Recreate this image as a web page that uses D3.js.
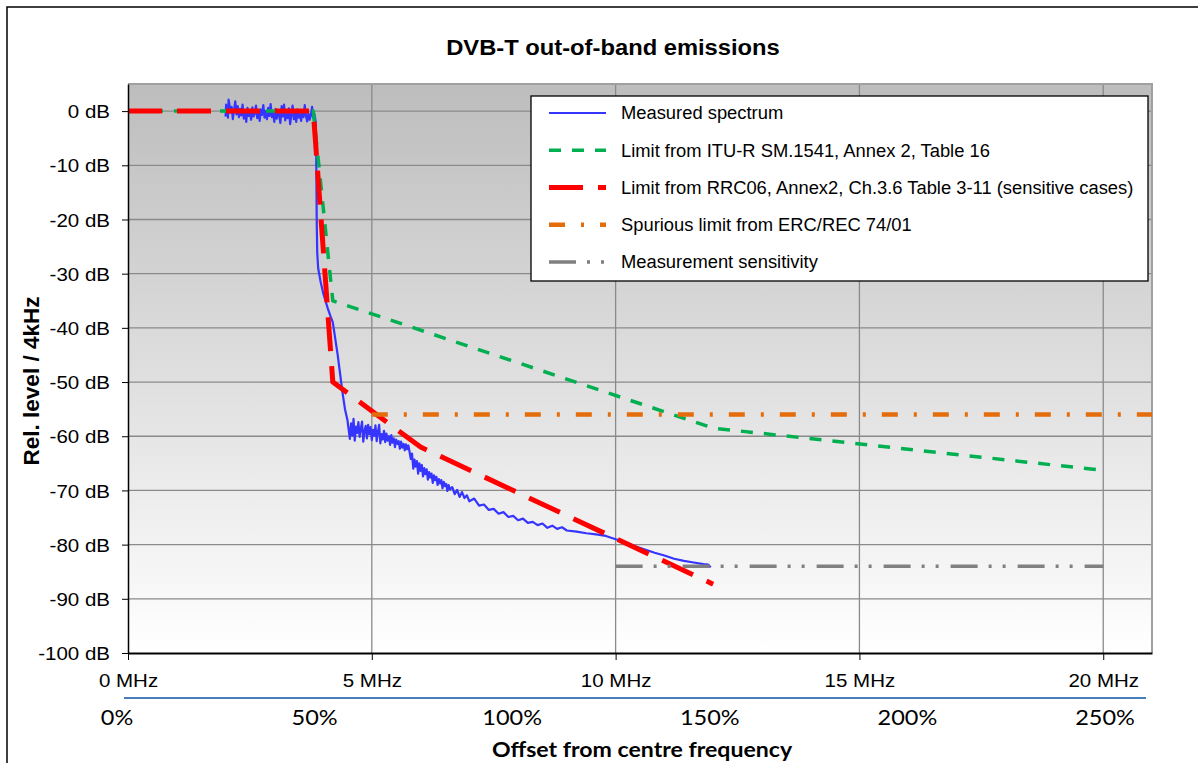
<!DOCTYPE html>
<html><head><meta charset="utf-8">
<script src="https://cdn.jsdelivr.net/npm/d3@7"></script>
<style>
html,body{margin:0;padding:0;background:#fff;}
svg{display:block;}
</style></head>
<body>
<svg id="chart" width="1198" height="763"></svg>
<script>
// ---------------- DATA ----------------
const title = "DVB-T out-of-band emissions";
const yTitle = "Rel. level / 4kHz";
const xTitle = "Offset from centre frequency";
const yTicks = [0,-10,-20,-30,-40,-50,-60,-70,-80,-90,-100];
const xTicks = [0,5,10,15,20];
const pctTicks = [0,50,100,150,200,250];
const seriesNames = [
  "Measured spectrum",
  "Limit from ITU-R SM.1541, Annex 2, Table 16",
  "Limit from RRC06, Annex2, Ch.3.6 Table 3-11 (sensitive cases)",
  "Spurious limit from ERC/REC 74/01",
  "Measurement sensitivity"
];
// measured spectrum: [offset MHz, level dB]
const measuredSpectrum = [
 [2.000,-1.0],[2.0125,1.2],[2.025,0.5],[2.050,-1.2],[2.0625,2.1],[2.075,1.5],[2.100,-0.3],[2.125,0.8],[2.150,-1.5],[2.175,0.2],
 [2.200,1.8],[2.225,-0.6],[2.250,0.9],[2.275,-1.1],[2.300,0.4],[2.325,-0.8],[2.350,1.2],[2.375,-1.4],
 [2.400,0.1],[2.425,-2.0],[2.450,0.6],[2.475,-0.9],[2.500,-0.2],[2.525,-1.6],[2.550,0.7],[2.575,-1.0],
 [2.600,-0.4],[2.625,1.0],[2.650,-1.3],[2.675,-0.1],[2.700,-1.8],[2.725,0.3],[2.750,-0.7],[2.775,1.1],
 [2.800,-1.2],[2.825,0.0],[2.850,-1.5],[2.875,0.6],[2.900,-0.9],[2.925,1.3],[2.950,-1.1],[2.975,-0.3],
 [3.000,-2.0],[3.025,0.4],[3.050,-1.4],[3.075,0.2],[3.100,-0.8],[3.125,-2.2],[3.150,0.9],[3.175,-1.0],
 [3.200,1.2],[3.225,-1.7],[3.250,-0.2],[3.275,-1.3],[3.300,0.5],[3.325,-2.4],[3.350,-0.6],[3.375,1.0],
 [3.400,-1.5],[3.425,-0.1],[3.450,-2.0],[3.475,0.3],[3.500,-1.2],[3.525,-0.5],[3.550,-1.8],[3.575,0.0],
 [3.600,-1.1],[3.625,1.1],[3.650,-0.9],[3.675,-1.9],[3.700,-0.4],[3.725,-1.6],[3.750,-0.8],[3.775,0.8],
 [3.800,-1.3],[3.825,-0.6],[3.850,-2.0],
 [3.860,-8.0],[3.870,-20.0],[3.880,-26.0],[3.900,-29.0],[3.950,-31.5],[4.000,-33.5],[4.050,-35.0],
 [4.100,-36.5],[4.150,-37.8],[4.200,-39.0],[4.250,-42.0],[4.300,-45.0],[4.350,-48.5],[4.400,-52.0],
 [4.450,-55.0],[4.500,-57.0],
 [4.525,-58.8],[4.550,-60.5],[4.575,-57.6],[4.600,-59.9],[4.625,-56.8],[4.650,-60.8],[4.675,-58.2],
 [4.700,-59.4],[4.725,-57.4],[4.750,-60.1],[4.775,-58.6],[4.800,-57.3],[4.825,-61.0],[4.850,-59.0],
 [4.875,-58.1],[4.900,-60.4],[4.925,-57.9],[4.950,-59.6],[4.975,-58.3],[5.000,-60.7],[5.025,-58.8],
 [5.050,-59.9],[5.075,-58.0],[5.100,-60.9],[5.125,-59.2],[5.150,-57.9],[5.175,-61.3],[5.200,-59.6],
 [5.225,-60.6],[5.250,-59.0],[5.275,-61.1],[5.300,-59.5],[5.325,-60.8],[5.350,-60.0],[5.375,-61.6],
 [5.400,-59.8],[5.425,-61.2],[5.450,-60.4],[5.475,-62.0],[5.500,-60.6],[5.525,-61.4],[5.550,-60.9],
 [5.575,-62.3],[5.600,-61.0],[5.625,-62.1],[5.650,-61.4],[5.675,-62.6],[5.700,-61.5],[5.725,-62.4],
 [5.750,-61.7],[5.775,-62.9],[5.800,-64.2],[5.825,-63.2],[5.850,-66.0],[5.875,-64.3],[5.900,-65.6],
 [5.925,-64.6],[5.950,-66.9],[5.975,-65.0],[6.000,-66.4],[6.025,-65.3],[6.050,-67.4],[6.075,-65.9],
 [6.100,-67.0],[6.125,-66.1],[6.150,-68.0],[6.175,-66.6],[6.200,-67.6],[6.225,-66.9],[6.250,-68.6],
 [6.275,-67.2],[6.300,-68.1],[6.325,-67.5],[6.350,-69.0],[6.375,-67.9],[6.400,-68.7],[6.425,-68.1],
 [6.450,-69.6],[6.475,-68.4],[6.500,-69.2],[6.525,-68.8],[6.550,-70.1],[6.575,-69.0],[6.600,-69.8],
 [6.650,-69.4],[6.700,-70.7],[6.750,-69.9],[6.800,-71.2],[6.850,-70.3],[6.900,-71.4],[6.950,-70.9],
 [7.000,-72.0],[7.100,-71.5],[7.200,-72.8],
 [7.300,-72.6],[7.400,-73.6],[7.500,-73.4],[7.600,-74.3],[7.700,-74.0],[7.800,-74.9],[7.900,-74.7],
 [8.000,-75.5],[8.100,-75.2],[8.200,-76.0],[8.300,-75.8],[8.400,-76.4],[8.500,-76.1],[8.600,-76.9],
 [8.700,-76.5],[8.800,-77.1],[8.900,-76.8],[9.000,-77.4],[9.200,-77.6],[9.400,-77.9],[9.600,-78.1],
 [9.800,-78.4],[10.000,-79.0],[10.200,-79.5],[10.400,-80.3],[10.600,-80.9],[10.800,-81.5],[11.000,-82.0],
 [11.200,-82.6],[11.400,-83.0],[11.600,-83.3],[11.800,-83.6],[11.900,-83.7],[11.950,-84.2]
];
const ituFreq = [0, 3.8, 4.2, 12.0, 20.0];
const ituLevel = [0, 0, -35, -58.5, -66.3];
const rrcFreq = [0, 3.8, 4.2, 6.0, 12.0];
const rrcLevel = [0, 0, -50, -62, -87.3];
const spurFreq = [5, 21];
const spurLevel = [-56, -56];
const sensFreq = [10, 20];
const sensLevel = [-84, -84];

// ---------------- LAYOUT / STYLE ----------------
const M = {left:128, right:1152, top:84, bottom:653};
const SX = 1.08; // horizontal text stretch
const FONT = "'Liberation Sans', Arial, sans-serif";
const FONT2 = "Lato, 'Open Sans', sans-serif";
const styles = [
  {color:"#3535ff", width:2.2, dash:null},
  {color:"#00b050", width:3.5, dash:"12,11"},
  {color:"#ff0000", width:5, dash:"34,15"},
  {color:"#e46c0a", width:4.5, dash:"16,16,3,16"},
  {color:"#808080", width:3.5, dash:"27,11,3,11,3,12"}
];

const svg = d3.select("#chart");
const x = d3.scaleLinear().domain([0,21]).range([M.left, M.right]);
const y = d3.scaleLinear().domain([-100,5]).range([M.bottom, M.top]);
const pct = d3.scaleLinear().domain([0,250]).range([117,1105]);

function stretch(sel, sx){
  sel.each(function(){
    const t = d3.select(this);
    const tx = +t.attr("data-x")||0, ty = +t.attr("data-y")||0;
    t.attr("transform", `translate(${tx},${ty}) scale(${sx},1)`).attr("x",0).attr("y",0);
  });
}

// outer frame
svg.append("rect").attr("x",7).attr("y",7).attr("width",1400).attr("height",1000)
  .attr("fill","#fff").attr("stroke","#000").attr("stroke-width",1.5);

// gradient background
const defs = svg.append("defs");
const lg = defs.append("linearGradient").attr("id","bg").attr("x1",0).attr("x2",0).attr("y1",0).attr("y2",1);
lg.append("stop").attr("offset","0%").attr("stop-color","#bdbdbd");
lg.append("stop").attr("offset","100%").attr("stop-color","#ffffff");
defs.append("clipPath").attr("id","clip").append("rect")
  .attr("x",M.left).attr("y",M.top).attr("width",M.right-M.left).attr("height",M.bottom-M.top);

svg.append("rect").attr("x",M.left).attr("y",M.top).attr("width",M.right-M.left).attr("height",M.bottom-M.top)
  .attr("fill","url(#bg)");

// grid
const grid = svg.append("g");
grid.selectAll("line.h").data(yTicks.filter(d=>d>-100)).join("line")
  .attr("x1",M.left).attr("x2",M.right).attr("y1",d=>y(d)).attr("y2",d=>y(d))
  .attr("stroke","#8a8a8a").attr("stroke-width",1.3);
grid.selectAll("line.v").data(xTicks.filter(d=>d>0)).join("line")
  .attr("y1",M.top).attr("y2",M.bottom).attr("x1",d=>x(d)).attr("x2",d=>x(d))
  .attr("stroke","#8a8a8a").attr("stroke-width",1.3);

// plot border top/right
svg.append("path").attr("d",`M${M.left},${M.top}H${M.right}V${M.bottom}`)
  .attr("fill","none").attr("stroke","#a0a0a0").attr("stroke-width",2);

// series
const line = d3.line().x(d=>x(d[0])).y(d=>y(d[1]));
const zip = (f,l)=>f.map((v,i)=>[v,l[i]]);
const seriesData = [
  measuredSpectrum,
  zip(ituFreq, ituLevel),
  zip(rrcFreq, rrcLevel),
  zip(spurFreq, spurLevel),
  zip(sensFreq, sensLevel)
];
const plot = svg.append("g").attr("clip-path","url(#clip)");
seriesData.forEach((data,i)=>{
  const s = styles[i];
  plot.append("path").datum(data).attr("d",line)
    .attr("fill","none").attr("stroke",s.color).attr("stroke-width",s.width)
    .attr("stroke-dasharray",s.dash).attr("stroke-linejoin","round");
});

// axes
const yAxis = svg.append("g").attr("transform",`translate(${M.left},0)`)
  .call(d3.axisLeft(y).tickValues(yTicks).tickFormat(d=>d+" dB").tickSize(6).tickSizeOuter(0));
yAxis.select(".domain").attr("stroke","#000").attr("stroke-width",1.5);
yAxis.selectAll(".tick line").attr("stroke","#000").attr("stroke-width",1);
yAxis.selectAll(".tick text").attr("font-family",FONT).attr("font-size",19).attr("fill","#000")
  .attr("data-x",-18).attr("data-y",0).attr("dy","0.35em").call(stretch,SX);

const xAxis = svg.append("g").attr("transform",`translate(0,${M.bottom})`)
  .call(d3.axisBottom(x).tickValues(xTicks).tickFormat(d=>d+" MHz").tickSize(7).tickSizeOuter(0));
xAxis.select(".domain").attr("stroke","#000").attr("stroke-width",2);
xAxis.selectAll(".tick line").attr("stroke","#000").attr("stroke-width",1);
xAxis.selectAll(".tick text").attr("font-family",FONT).attr("font-size",19).attr("fill","#000")
  .attr("data-x",0).attr("data-y",27).attr("dy","0.35em").call(stretch,SX);

// secondary percentage axis
svg.append("line").attr("x1",124).attr("x2",1146).attr("y1",698).attr("y2",698)
  .attr("stroke","#4a7ebb").attr("stroke-width",2);
svg.append("g").selectAll("text").data(pctTicks).join("text")
  .text(d=>d+"%").attr("text-anchor","middle")
  .attr("font-family",FONT2).attr("font-size",21).attr("fill","#000")
  .attr("data-x",d=>pct(d)).attr("data-y",718).attr("dy","0.35em").call(stretch,1.12);

// titles
svg.append("text").text(title).attr("text-anchor","middle").attr("font-family",FONT)
  .attr("font-weight","bold").attr("font-size",22).attr("fill","#000")
  .attr("data-x",613).attr("data-y",55).call(stretch,SX);
svg.append("text").text(xTitle).attr("text-anchor","middle").attr("font-family",FONT2)
  .attr("font-weight","bold").attr("font-size",21).attr("fill","#000")
  .attr("data-x",642).attr("data-y",750).attr("dy","0.35em").call(stretch,1.1);
svg.append("text").text(yTitle).attr("text-anchor","middle").attr("font-family",FONT)
  .attr("font-weight","bold").attr("font-size",22.5).attr("fill","#000")
  .attr("transform","translate(31,381) rotate(-90)").attr("dy","0.35em");

// legend
const L = {x:531, y:96, w:617, h:185};
const leg = svg.append("g");
leg.append("rect").attr("x",L.x).attr("y",L.y).attr("width",L.w).attr("height",L.h)
  .attr("fill","#fff").attr("stroke","#000").attr("stroke-width",1.3);
const legY = d3.scalePoint().domain(seriesNames).range([113,262]);
seriesNames.forEach((name,i)=>{
  const s = styles[i];
  leg.append("line").attr("x1",549).attr("x2",606).attr("y1",legY(name)).attr("y2",legY(name))
    .attr("stroke",s.color).attr("stroke-width",i===0?2.2:s.width).attr("stroke-dasharray",s.dash);
  leg.append("text").text(name).attr("font-family",FONT).attr("font-size",18).attr("fill","#000")
    .attr("data-x",621).attr("data-y",legY(name)).attr("dy","0.35em").call(stretch,1.02);
});
</script>
</body></html>
